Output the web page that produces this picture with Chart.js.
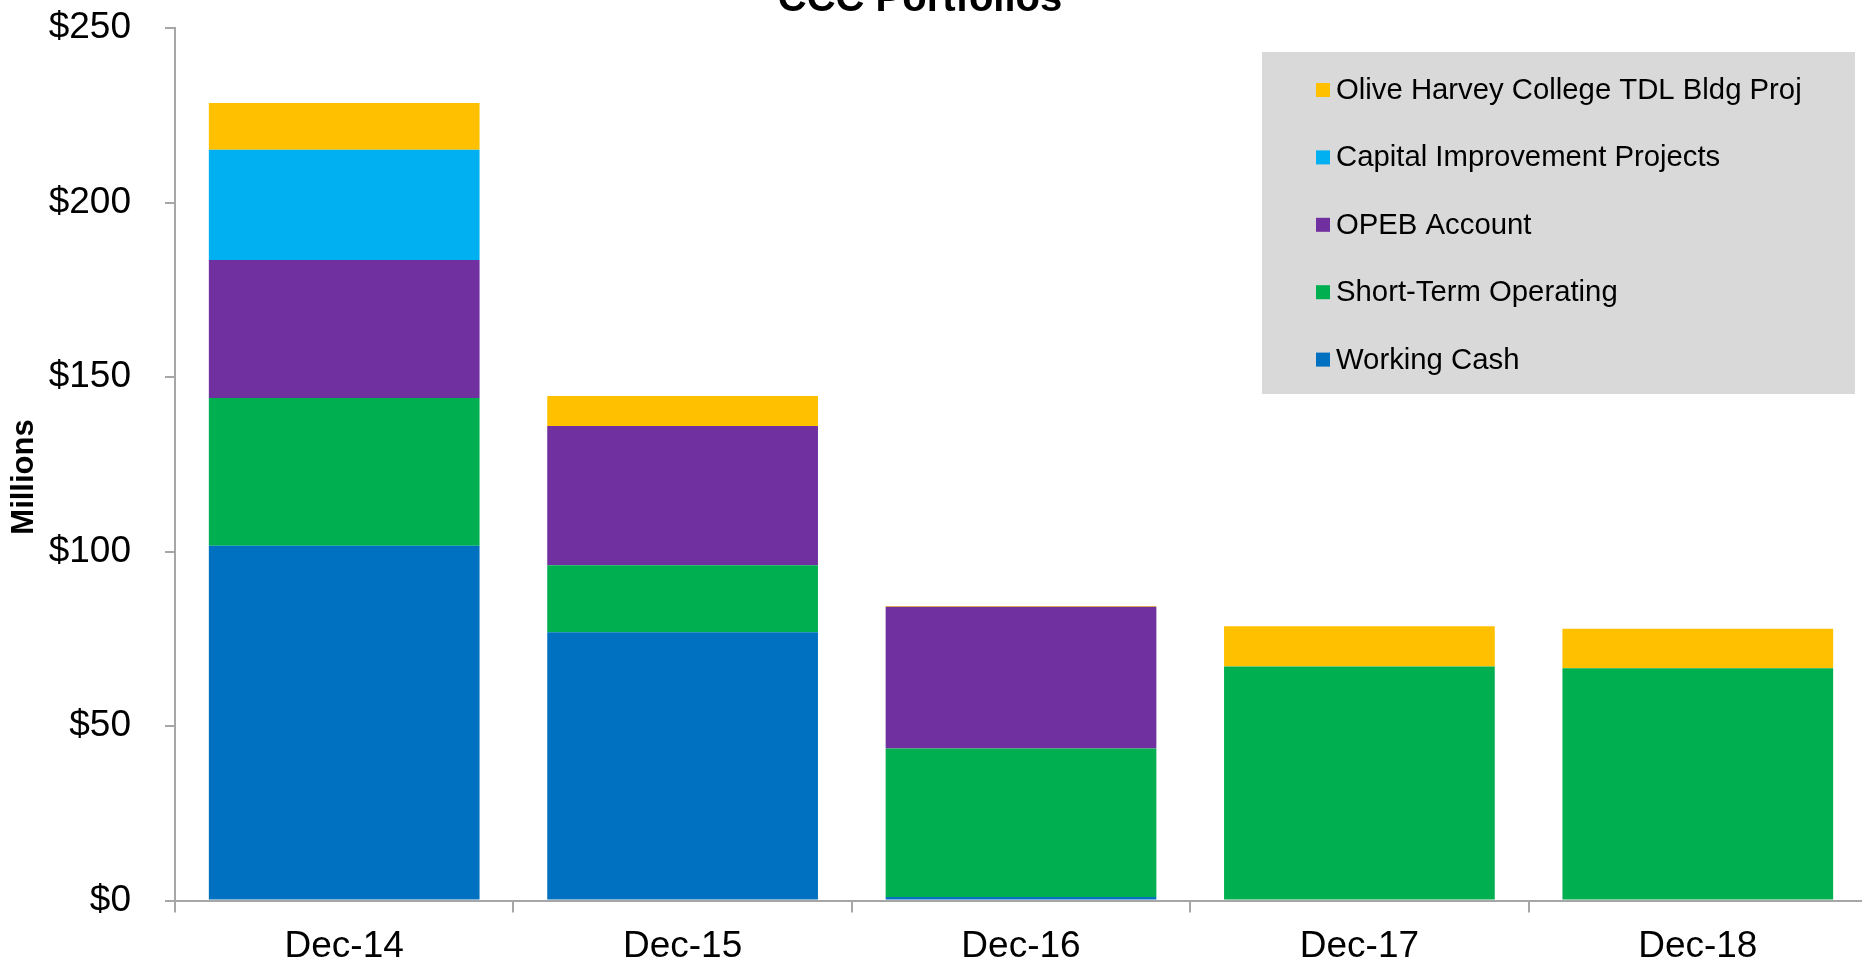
<!DOCTYPE html>
<html lang="en">

<head>
    <meta charset="UTF-8">
    <meta name="viewport" content="width=device-width, initial-scale=1.0">
    <title>CCC Portfolios</title>

    <style>
        html, body {
            margin: 0;
            padding: 0;
            background: #ffffff;
            overflow: hidden;
        }

        #portfolioChart {
            position: absolute;
            left: -27px;
            top: -28px;
        }
    </style>
</head>

<body>

    <canvas id="portfolioChart" width="1894" height="1009"></canvas>
    <script src="https://cdn.jsdelivr.net/npm/chart.js"></script>

    <script>
        // year-end balances, millions of dollars
        const periods = ["Dec-14", "Dec-15", "Dec-16", "Dec-17", "Dec-18"]
        const workingCash = [101.7, 76.9, 1.0, 0, 0]
        const shortTermOperating = [42.3, 19.2, 42.6, 67.1, 66.6]
        const opebAccount = [39.6, 39.9, 40.6, 0, 0]
        const capitalProjects = [31.6, 0, 0, 0, 0]
        const oliveHarvey = [13.4, 8.6, 0.2, 11.5, 11.3]
        const yTicks = [0, 50, 100, 150, 200, 250]

        const fontFamily = "'Liberation Sans', Arial, Helvetica, sans-serif"
        const shiftX = 27

        function series(label, data, color) {
            return {
                label: label,
                data: data,
                backgroundColor: color,
                borderWidth: 0,
                barPercentage: 0.8,
                categoryPercentage: 1.0
            }
        }

        // grey legend panel in the upper right (top series first),
        // plus the rotated "Millions" caption beside the value axis
        const boxLegend = {
            id: 'boxLegend',
            afterDraw(chart) {
                const ctx = chart.ctx
                const left = 1262 + shiftX, top = 80, width = 593, height = 342
                ctx.save()
                ctx.fillStyle = '#D9D9D9'
                ctx.fillRect(left, top, width, height)
                ctx.font = "29.3px " + fontFamily
                ctx.textBaseline = 'middle'
                const items = chart.data.datasets.slice().reverse()
                items.forEach((ds, i) => {
                    const y = 118 + i * 67.4
                    ctx.fillStyle = ds.backgroundColor
                    ctx.fillRect(1316 + shiftX, y - 7, 14, 14)
                    ctx.fillStyle = '#000000'
                    ctx.fillText(ds.label, 1336 + shiftX, y + 1)
                })

                ctx.translate(24 + shiftX, 505)
                ctx.rotate(-Math.PI / 2)
                ctx.font = "bold 31px " + fontFamily
                ctx.textAlign = 'center'
                ctx.fillText("Millions", 0, 0)
                ctx.restore()
            }
        }

        const myCanvas = document.getElementById('portfolioChart')

        const myChart = new Chart(myCanvas, {
            type: 'bar',
            data: {
                labels: periods,
                datasets: [
                    series("Working Cash", workingCash, '#0070C0'),
                    series("Short-Term Operating", shortTermOperating, '#00B050'),
                    series("OPEB Account", opebAccount, '#7030A0'),
                    series("Capital Improvement Projects", capitalProjects, '#00B0F0'),
                    series("Olive Harvey College TDL Bldg Proj", oliveHarvey, '#FFC000')
                ]
            },
            options: {
                responsive: false,
                animation: false,
                layout: {
                    padding: { left: 0, right: 0, top: 0, bottom: 0 }
                },
                plugins: {
                    legend: { display: false },
                    tooltip: { enabled: false },
                    title: {
                        display: true,
                        text: "CCC Portfolios",
                        color: '#000000',
                        font: { family: fontFamily, size: 40, weight: 'bold', lineHeight: 1.0 },
                        padding: { top: 0, bottom: 8 }
                    }
                },
                scales: {
                    x: {
                        stacked: true,
                        grid: {
                            display: true,
                            drawOnChartArea: false,
                            drawTicks: true,
                            tickLength: 12,
                            color: '#A6A6A6',
                            lineWidth: 2
                        },
                        border: { color: '#A6A6A6', width: 2 },
                        ticks: {
                            color: '#000000',
                            padding: 12,
                            maxRotation: 0,
                            font: { family: fontFamily, size: 37 }
                        }
                    },
                    y: {
                        stacked: true,
                        min: 0,
                        max: 250,
                        afterBuildTicks(scale) {
                            scale.ticks = yTicks.map(v => ({ value: v }))
                        },
                        afterFit(scale) {
                            scale.width = 175 + shiftX
                        },
                        grid: {
                            display: true,
                            drawOnChartArea: false,
                            drawTicks: true,
                            tickLength: 10,
                            color: '#A6A6A6',
                            lineWidth: 2
                        },
                        border: { color: '#A6A6A6', width: 2 },
                        ticks: {
                            color: '#000000',
                            padding: 34,
                            font: { family: fontFamily, size: 37 },
                            callback: value => '$' + value
                        }
                    }
                }
            },
            plugins: [boxLegend]
        })
    </script>
</body>

</html>
